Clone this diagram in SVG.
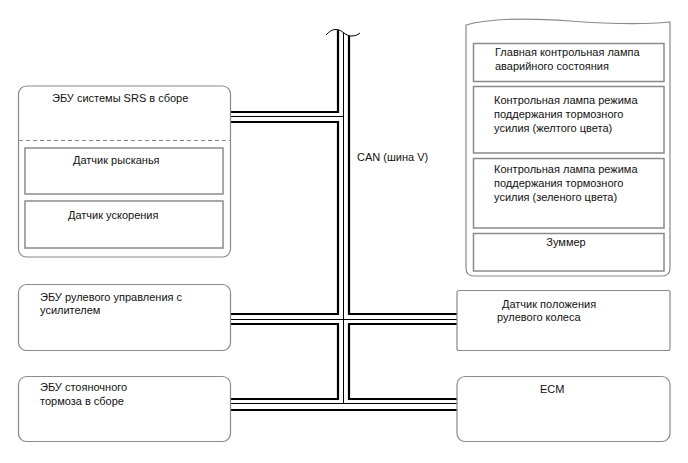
<svg xmlns="http://www.w3.org/2000/svg" width="688" height="463" viewBox="0 0 688 463">
<style>
text{font-family:"Liberation Sans",Arial,sans-serif;font-size:11px;fill:#111}
.box{fill:#fff;stroke:#8a8a8a;stroke-width:1.2}
.inner{fill:#fff;stroke:#8a8a8a;stroke-width:1.5}
.thick{fill:none;stroke:#000;stroke-width:2.2}
.thin{fill:none;stroke:#000;stroke-width:1}
.mid{text-anchor:middle}
</style>
<rect width="688" height="463" fill="#fff"/>
<g id="bus">
<path class="thin" d="M326,35 C332,28 338,28 344,33 C349,37 355,37 360,33" stroke-width="1.3"/>
<path class="thick" d="M338,29.8 V112 H231 M231,122 H338 V314 H231 M231,324 H338 V399 H231 M231,410 H457 M457,399 H349 V324 H457 M457,314 H349 V35.8"/>
<path class="thin" d="M343.5,33 V403.5 M231,116.5 H343.5 M231,319.5 H457 M231,403.5 H457"/>
</g>
<g id="srs">
<rect class="box" x="18.5" y="86" width="212" height="171" rx="8"/>
<line x1="19" y1="140.5" x2="230" y2="140.5" stroke="#8a8a8a" stroke-width="1" stroke-dasharray="4,3"/>
<text x="52" y="102">ЭБУ системы SRS в сборе</text>
</g>
<g id="yaw">
<rect class="inner" x="25" y="148" width="198" height="46"/>
<text x="73" y="164">Датчик рысканья</text>
</g>
<g id="accel">
<rect class="inner" x="25" y="201" width="198" height="47"/>
<text x="68" y="219">Датчик ускорения</text>
</g>
<g id="eps">
<rect class="box" x="18.5" y="284.5" width="212" height="66" rx="8"/>
<text x="40" y="301">ЭБУ рулевого управления с</text>
<text x="40" y="314">усилителем</text>
</g>
<g id="epb">
<rect class="box" x="18.5" y="376.5" width="212" height="65" rx="8"/>
<text x="40" y="391">ЭБУ стояночного</text>
<text x="40" y="405">тормоза в сборе</text>
</g>
<g id="steer">
<rect class="box" x="457" y="290.5" width="213" height="60" rx="2"/>
<text x="502" y="308">Датчик положения</text>
<text x="497" y="321">рулевого колеса</text>
</g>
<g id="ecm">
<rect class="box" x="457" y="376.5" width="213" height="65" rx="8"/>
<text x="540" y="393">ECM</text>
</g>
<g id="combo">
<path class="box" d="M466,25 C490,18 530,18 570,21 C610,24 640,25 670,22 V268 Q670,276 662,276 H474 Q466,276 466,268 Z"/>
</g>
<g id="master">
<rect class="inner" x="473.5" y="43.5" width="190.5" height="38"/>
<text x="495" y="56">Главная контрольная лампа</text>
<text x="495" y="70">аварийного состояния</text>
</g>
<g id="yellow">
<rect class="inner" x="473.5" y="86.5" width="190.5" height="66.5"/>
<text x="494" y="104">Контрольная лампа режима</text>
<text x="494" y="118">поддержания тормозного</text>
<text x="494" y="132">усилия (желтого цвета)</text>
</g>
<g id="green">
<rect class="inner" x="473.5" y="158.5" width="190.5" height="69.5"/>
<text x="494" y="173">Контрольная лампа режима</text>
<text x="494" y="187">поддержания тормозного</text>
<text x="494" y="201">усилия (зеленого цвета)</text>
</g>
<g id="buzzer">
<rect class="inner" x="473.5" y="233.5" width="190.5" height="37.5"/>
<text class="mid" x="566" y="246">Зуммер</text>
</g>
<g id="label">
<text x="357" y="161">CAN (шина V)</text>
</g>
</svg>
